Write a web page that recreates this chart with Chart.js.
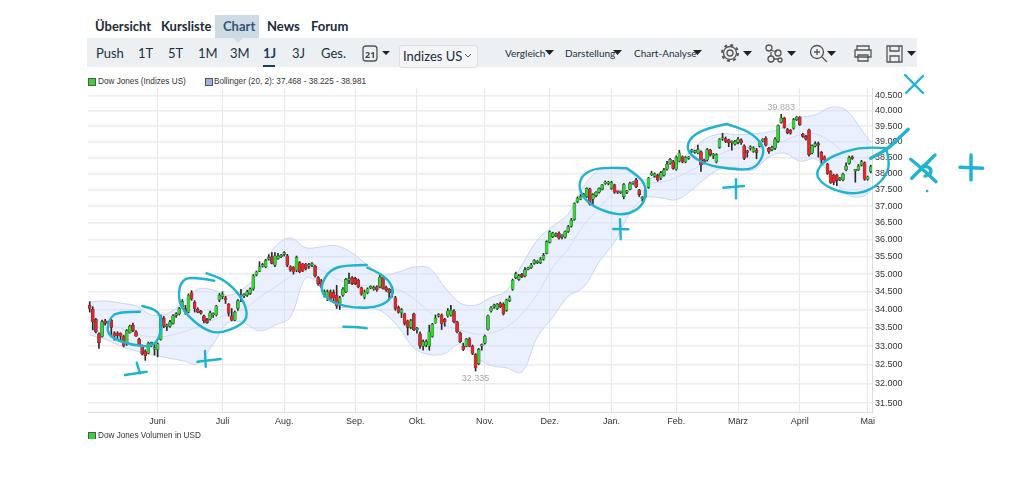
<!DOCTYPE html>
<html lang="de">
<head>
<meta charset="UTF-8">
<title>Dow Jones Chart</title>
<script src="https://cdn.jsdelivr.net/npm/chart.js"></script>
<style>
  html, body { margin: 0; padding: 0; background: #fff; width: 1020px; height: 477px; overflow: hidden; }
  body { position: relative; font-family: Lato, "Noto Sans", sans-serif; color: #1c2b39; }
  canvas { position: absolute; left: 0; top: 0; }
  .txt { position: absolute; white-space: nowrap; }
  .tab { top: 18px; font-size: 13px; font-weight: 700; line-height: 17px; }
  .per { top: 45px; font-size: 13px; line-height: 17px; color: #22313f; }
  .act { font-size: 10px; top: 46px; line-height: 14px; color: #22313f; }
  .lg { font: 8.2px "Liberation Sans", sans-serif; line-height: 11px; color: #333; }
  .sw { position: absolute; width: 6px; height: 6px; border: 1px solid #555; }
  #bar { position: absolute; left: 87px; top: 38px; width: 830px; height: 29px; background: #ecf0f3; }
  #active { position: absolute; left: 215px; top: 15px; width: 44px; height: 23px; background: #cddbe4; }
  #select { position: absolute; left: 399px; top: 45px; width: 77px; height: 21px; background: #f4f5f6; border: 1px solid #dcdfe2; border-radius: 3px; }
  #under { position: absolute; left: 263px; top: 65px; width: 12px; height: 2px; background: #1d3c5e; }
  svg { position: absolute; left: 0; top: 0; }
</style>
</head>
<body>
<div id="active"></div>
<div id="bar"></div>
<div id="under"></div>
<div id="select"></div>

<span class="txt tab" style="left:95px">Übersicht</span>
<span class="txt tab" style="left:161px">Kursliste</span>
<span class="txt tab" style="left:223px;color:#34566f">Chart</span>
<span class="txt tab" style="left:267px">News</span>
<span class="txt tab" style="left:311px">Forum</span>

<span class="txt per" style="left:96px">Push</span>
<span class="txt per" style="left:138px">1T</span>
<span class="txt per" style="left:168px">5T</span>
<span class="txt per" style="left:198px">1M</span>
<span class="txt per" style="left:230px">3M</span>
<span class="txt per" style="left:263px;font-weight:700;color:#1d3c5e">1J</span>
<span class="txt per" style="left:292px">3J</span>
<span class="txt per" style="left:321px">Ges.</span>
<span class="txt" style="left:403px;top:47px;font-size:13px;line-height:18px">Indizes US</span>
<span class="txt act" style="left:505px">Vergleich</span>
<span class="txt act" style="left:565px">Darstellung</span>
<span class="txt act" style="left:634px">Chart-Analyse</span>

<span class="sw" style="left:88px;top:78px;background:#33d433"></span>
<span class="txt lg" style="left:98px;top:76px">Dow Jones (Indizes US)</span>
<span class="sw" style="left:205px;top:78px;background:#9fb2dc"></span>
<span class="txt lg" style="left:214px;top:76px">Bollinger (20, 2): 37.468 - 38.225 - 38.981</span>

<canvas id="chart" width="1020" height="477"></canvas>

<div style="position:absolute;left:86px;top:431px;width:300px;height:8px;overflow:hidden">
  <span class="sw" style="left:2px;top:1px;background:#33d433"></span>
  <span class="txt lg" style="left:12px;top:-1px">Dow Jones Volumen in USD</span>
</div>

<svg id="icons" width="1020" height="477" fill="none" stroke="#555" stroke-width="1.3">
  <rect x="363" y="46" width="14" height="15" rx="3"/>
  <text x="365" y="58" font-size="9" font-weight="700" fill="#444" stroke="none" font-family="Noto Sans">21</text>
  <circle cx="730" cy="53" r="3"/>
  <circle cx="730" cy="53" r="6.5"/>
  <circle cx="730" cy="53" r="8" stroke-dasharray="3 3.3" stroke-width="2"/>
  <circle cx="769" cy="48" r="3"/><circle cx="778" cy="53" r="3"/><circle cx="771" cy="59" r="3"/><circle cx="780" cy="60" r="2"/>
  <path d="M770 50l7 2M771 56v-4M773 59h5"/>
  <circle cx="817" cy="52" r="6.5"/><path d="M822 57l5 5M814 52h6M817 49v6"/>
  <path d="M857 50v-4h12v4M855 50h16v7h-16zM858 55h10v6h-10z"/>
  <path d="M887 46h15v16h-15zM890 46v5h9v-5M890 62v-6h9v6"/>
  <g fill="#222" stroke="none">
    <path d="M382 51h8l-4 4z"/><path d="M545 50h9l-4.5 5z"/><path d="M613 50h9l-4.5 5z"/><path d="M693 50h9l-4.5 5z"/>
    <path d="M743 51h9l-4.5 5z"/><path d="M787 51h9l-4.5 5z"/><path d="M827 51h9l-4.5 5z"/><path d="M907 51h9l-4.5 5z"/>
    <path d="M233 38h10l-5 5z" fill="#cddbe4"/>
  </g>
  <path d="M465 54l3 3 3-3" stroke="#555" stroke-width="1"/>
</svg>

<svg id="notes" width="1020" height="477" fill="none" stroke="#1fb3d1" stroke-width="2.4" stroke-linecap="round" stroke-linejoin="round"></svg>

<script>
// Handelstage, Index 0 = erste Kerze
const monthDays = [22, 43, 63, 86, 106, 128, 149, 169, 190, 210, 230, 252];
const monthLabels = ['Juni', 'Juli', 'Aug.', 'Sep.', 'Okt.', 'Nov.', 'Dez.', 'Jan.', 'Feb.', 'März', 'April', 'Mai'];
const yTicks = [31500, 32000, 32500, 33000, 33500, 34000, 34500, 35000, 35500, 36000, 36500, 37000, 37500, 38000, 38500, 39000, 39500, 40000, 40500];
const yLabels = ['31.500', '32.000', '32.500', '33.000', '33.500', '34.000', '34.500', '35.000', '35.500', '36.000', '36.500', '37.000', '37.500', '38.000', '38.500', '39.000', '39.500', '40.000', '40.500'];

const opens = [
34120,34010,33730,33330,33260,33690,33630,33710,33360,33350,33350,33260,33060,33360,33570,33390,33180,33000,32850,32810,
33060,32920,32910,33180,33760,33530,33540,33620,33840,33880,34080,34030,33930,34470,34200,34010,33950,33830,33730,33740,
33850,33850,34270,34360,34330,34150,33830,33710,34030,34370,34380,34400,34450,34580,34980,35080,35230,35210,35430,35500,
35260,35450,35500,35570,35530,35210,35190,35110,35330,35290,35290,35230,35260,35230,34900,34810,34400,34350,34500,34480,
34400,34190,34400,34500,34830,34900,34880,34830,34610,34350,34470,34610,34580,34640,34640,34910,34620,34570,34450,34330,
34060,33910,33880,33690,33510,33880,33440,33330,33000,33030,33000,33260,33630,33820,33850,33730,33830,33850,33960,33660,
33360,33000,33000,33200,33000,32770,32530,33000,33080,33450,33960,34080,34030,34170,34150,33980,34250,34570,34900,34850,
34990,34950,35140,35190,35310,35330,35330,35430,35600,35920,36090,36120,36190,36090,36070,36240,36400,36600,37130,37210,
37310,37290,37520,37210,37320,37420,37510,37690,37690,37540,37650,37440,37410,37290,37420,37510,37690,37800,37490,37220,
37290,37570,37960,37910,37950,37860,37950,38130,38310,38360,38130,38390,38520,38360,38470,38690,38660,38640,38680,38410,
38420,38730,38550,38360,38820,39080,39100,39060,38970,38920,38980,39060,38870,38700,38790,38690,38730,38860,39030,39110,
38790,38750,38790,39010,39620,39760,39390,39360,39430,39710,39790,39240,39170,39380,38640,38860,38940,38660,38520,38290,
38060,37950,37950,37810,37800,38110,38310,38520,38080,38110,38270,38330,37820,38060];
const closes = [
34030,33660,33390,33090,33660,33620,33650,33510,33270,33290,33270,33020,33420,33540,33420,33270,33030,32790,32740,33080,
33080,32960,33060,33790,33540,33560,33660,33830,33880,34030,34220,33930,34400,34290,34030,33930,33900,33690,33640,33910,
33870,34100,34400,34430,34270,33900,33710,33930,34250,34400,34400,34500,34580,34950,35060,35210,35260,35390,35460,35310,
35530,35520,35540,35620,35260,35110,35060,35480,35070,35090,35160,35260,35290,34950,34730,34640,34500,34500,34290,34330,
34100,34330,34570,34850,34870,34730,34730,34640,34430,34500,34580,34640,34610,34550,34910,34590,34550,34470,34550,34030,
33930,34000,33620,33510,33690,33440,33470,33000,33120,33120,33390,33600,33760,33860,33620,33660,33960,33980,33660,33390,
33120,32910,33190,33000,32800,32420,32910,33030,33270,33830,34050,34120,34150,34080,33880,34270,34330,34830,35010,34950,
34930,35130,35170,35260,35390,35360,35430,35540,35940,36230,36190,36150,36040,36120,36240,36380,36580,37080,37240,37290,
37340,37540,37060,37350,37420,37540,37650,37730,37720,37720,37420,37420,37430,37660,37450,37690,37720,37590,37350,37250,
37480,37860,37990,37980,37800,38020,38110,38290,38440,38160,38500,38640,38360,38500,38500,38720,38700,38750,38270,38360,
38750,38590,38600,38590,39080,39110,39010,38960,38990,39010,39080,38960,38470,38660,38820,38790,38660,38990,39060,38890,
38690,38820,39080,39520,39760,39460,39290,39270,39710,39790,39550,39170,39080,38590,38870,38940,38890,38420,38420,38000,
37720,37720,37780,37850,37980,38230,38500,38470,38110,38230,38360,37820,37890,38210];
const highs = [
34220,34080,33760,33360,33710,33730,33680,33730,33390,33390,33360,33300,33450,33570,33630,33420,33220,33030,32900,33110,
33110,33070,33090,33850,33810,33600,33700,33860,33920,34060,34280,34120,34440,34530,34250,34050,33980,33850,33760,33960,
33910,34120,34450,34500,34370,34170,34030,33960,34280,34570,34450,34540,34610,34990,35090,35360,35310,35430,35560,35620,
35620,35600,35570,35650,35570,35240,35220,35520,35360,35310,35310,35310,35330,35260,34930,34850,34550,34550,34550,34550,
34680,34370,34620,34880,35030,34930,34910,34860,34630,34550,34610,34670,34660,34670,34980,34950,34660,34590,34640,34370,
34100,34030,33900,33710,33730,33900,33510,33390,33170,33170,33570,33620,33850,33890,33880,33760,34030,34120,34000,33680,
33390,33080,33210,33230,33030,32800,32940,33060,33300,33850,34080,34150,34170,34210,34190,34290,34380,34860,35060,34990,
35020,35190,35200,35310,35420,35390,35480,35600,35970,36260,36220,36200,36230,36150,36260,36420,36630,37100,37280,37350,
37390,37560,37550,37380,37440,37560,37660,37770,37760,37760,37670,37460,37460,37690,37480,37730,37750,37850,37510,37290,
37500,37880,38070,38020,37980,38070,38160,38380,38470,38410,38550,38730,38550,38530,38530,38760,38730,38890,38710,38450,
38790,38760,38630,38620,39100,39270,39150,39080,39030,39040,39140,39090,38900,38730,38870,38840,38790,39020,39100,39160,
38820,38860,39130,39540,39883,39790,39430,39390,39750,39810,39810,39270,39200,39400,38900,39000,38990,38690,38550,38320,
38090,37980,37980,37880,38010,38330,38540,38550,38130,38280,38410,38360,37920,38260];
const lows = [
33930,33440,33360,32940,33240,33570,33590,33260,33160,33160,33120,32980,33020,33350,33390,33260,33010,32760,32620,32790,
32980,32760,32710,33160,33500,33420,33510,33600,33780,33850,34030,33870,33910,34260,33930,33910,33870,33630,33620,33710,
33780,33820,34220,34300,34170,33820,33690,33690,33980,34220,34330,34370,34420,34540,34950,35070,35200,35180,35400,35290,
35210,35420,35470,35520,35210,35080,35000,35070,35040,35070,35120,35160,35210,34910,34680,34610,34350,34250,34250,34190,
34030,34000,34370,34470,34730,34700,34700,34610,34400,34300,34440,34580,34540,34510,34610,34570,34510,34290,34350,33980,
33900,33780,33570,33300,33470,33420,33350,32940,32890,32980,32890,33240,33620,33790,33450,33540,33790,33820,33630,33360,
33090,32880,32980,32980,32770,32335,32500,32890,33050,33430,33930,34030,34000,34050,33850,33950,34220,34540,34870,34820,
34900,34920,35120,35160,35280,35300,35300,35400,35580,35900,36060,36090,36010,36020,36040,36210,36370,36570,37100,37190,
37270,37260,37030,37010,37280,37390,37490,37660,37650,37510,37390,37380,37380,37220,37380,37490,37660,37560,37290,37150,
37260,37540,37930,37880,37760,37810,37920,38100,38280,38130,38100,38360,38330,38330,38440,38660,38630,38610,38060,38300,
38380,38540,38460,38330,38790,39040,38970,38840,38730,38890,38930,38910,38430,38510,38730,38660,38460,38830,38990,38860,
38630,38710,38750,38980,39590,39430,39250,39240,39400,39680,39520,39140,39050,38540,38610,38830,38510,38320,38380,37970,
37690,37650,37620,37780,37770,38080,38280,38440,37730,38090,38230,37790,37790,38020];

const bandDays = [0, 5, 10, 15, 20, 25, 30, 35, 40, 45, 50, 55, 60, 65, 70, 75, 80, 85, 90, 95, 100, 105, 110, 115, 120, 125, 130, 135, 140, 145, 150, 155, 160, 165, 170, 175, 180, 185, 190, 195, 200, 205, 210, 215, 220, 225, 230, 235, 240, 245, 250, 253];
const bandUpper = [34210, 34240, 34180, 34100, 33850, 33880, 34180, 34570, 34550, 34400, 34600, 35080, 35790, 36050, 35760, 35790, 35820, 35610, 35260, 34980, 35060, 35200, 35170, 34630, 34180, 34120, 34340, 34520, 35260, 35990, 36400, 36760, 37610, 38110, 38200, 38140, 37800, 38050, 38320, 38730, 39130, 39250, 39220, 39250, 39310, 39470, 39770, 39860, 40110, 40020, 39380, 38981];
const bandMiddle = [33770, 33630, 33490, 33330, 33250, 33270, 33380, 33520, 33710, 33880, 34010, 34340, 34630, 34920, 35170, 35110, 34860, 34710, 34660, 34600, 34550, 34310, 33930, 33570, 33440, 33330, 33360, 33520, 33880, 34430, 35200, 35730, 36430, 36940, 37410, 37610, 37700, 37730, 37870, 38110, 38350, 38640, 38800, 38830, 38890, 39030, 39220, 39250, 39000, 38590, 38230, 38225];
const bandLower = [33300, 33190, 33000, 32870, 32770, 32690, 32610, 32530, 33060, 33650, 33630, 33410, 33570, 33790, 34890, 34680, 34100, 34070, 34070, 33930, 33520, 32950, 32770, 32800, 33060, 32710, 32480, 32420, 32310, 33250, 33790, 34370, 34630, 35350, 35930, 36790, 37250, 37250, 37190, 37490, 37890, 38170, 38170, 38110, 38510, 38640, 38380, 38450, 37950, 37370, 37280, 37468];

const peakLabels = [{ day: 224, value: 39883, text: '39.883', above: true }, { day: 125, value: 32335, text: '32.335', above: false }];

const GREEN = '#33d433', RED = '#e3272b';
const days = opens.map((_, i) => i);

const extremes = {
  id: 'extremes',
  afterDatasetsDraw(chart) {
    const c = chart.ctx;
    c.save();
    c.font = '9px "Liberation Sans", sans-serif';
    c.fillStyle = '#a9a9a9';
    c.textAlign = 'center';
    peakLabels.forEach(p => {
      const x = chart.scales.x.getPixelForValue(p.day);
      const y = chart.scales.y.getPixelForValue(p.value);
      c.textBaseline = p.above ? 'bottom' : 'top';
      c.fillText(p.text, x, p.above ? y - 2 : y + 3);
    });
    c.restore();
  }
};

new Chart(document.getElementById('chart'), {
  data: {
    datasets: [
      { type: 'line', data: bandDays.map((d, i) => ({ x: d, y: bandUpper[i] })), borderColor: '#c6d5f0', borderWidth: 1, pointRadius: 0, tension: 0.35, fill: 2, backgroundColor: 'rgba(205,220,250,0.42)', order: 3 },
      { type: 'line', data: bandDays.map((d, i) => ({ x: d, y: bandMiddle[i] })), borderColor: '#d2def4', borderWidth: 1, pointRadius: 0, tension: 0.35, fill: false, order: 3 },
      { type: 'line', data: bandDays.map((d, i) => ({ x: d, y: bandLower[i] })), borderColor: '#c6d5f0', borderWidth: 1, pointRadius: 0, tension: 0.35, fill: false, order: 3 },
      { type: 'bar', data: days.map(i => ({ x: i, y: [lows[i], highs[i]] })), backgroundColor: '#2a2a2a', barThickness: 1, grouped: false, order: 2 },
      { type: 'bar', data: days.map(i => ({ x: i, y: [opens[i], closes[i]] })), backgroundColor: days.map(i => closes[i] >= opens[i] ? GREEN : RED), borderColor: '#333', borderWidth: 0.4, borderSkipped: false, barThickness: 3, minBarLength: 1.5, grouped: false, order: 1 }
    ]
  },
  options: {
    responsive: false,
    animation: false,
    layout: { padding: { left: 88, top: 88, right: 0, bottom: 0 } },
    plugins: { legend: { display: false }, tooltip: { enabled: false } },
    scales: {
      x: {
        type: 'linear',
        min: -0.55,
        max: 253.4,
        offset: false,
        afterBuildTicks: s => { s.ticks = monthDays.map(v => ({ value: v })); },
        afterFit: s => { s.height = 65; },
        grid: { color: '#e8e8e8', offset: false, drawTicks: false },
        border: { color: '#dcdcdc' },
        ticks: {
          autoSkip: false, maxRotation: 0, padding: 4, color: '#333',
          font: { family: '"Liberation Sans", sans-serif', size: 9 },
          callback: (v, i) => monthLabels[i]
        }
      },
      y: {
        type: 'logarithmic',
        position: 'right',
        min: 31270,
        max: 40749,
        afterBuildTicks: s => { s.ticks = yTicks.map(v => ({ value: v })); },
        afterFit: s => { s.width = 148; },
        grid: { color: '#ececec', drawTicks: false, lineWidth: 1.4 },
        border: { color: '#dcdcdc' },
        ticks: {
          padding: 3, color: '#333',
          font: { family: '"Liberation Sans", sans-serif', size: 9 },
          callback: (v, i) => yLabels[i]
        }
      }
    }
  },
  plugins: [extremes]
});

// Handschriftliche Markierungen
const notes = [
  [[140,311.7],[118,311.7],[110,318],[106.7,330],[111.7,338],[131.7,345],[151.7,347],[160,337],[162,320],[156.7,310],[142.3,306]],
  [[136.7,362.7],[140,373.3]], [[125,375],[146.7,371.7]],
  [[214.3,280.7],[190,276],[180,283],[178.3,300],[185,313],[201.7,328],[218.3,334.3],[241.7,325],[248.3,315],[241.7,296.7],[225,280],[206.7,273.3]],
  [[205,351],[205.7,366.7]], [[197.3,361.7],[220.7,359]],
  [[366.7,265],[345,265],[330,270],[321.7,283.3],[321.7,293.3],[333.3,303.3],[356.7,308.3],[380,306.7],[393.3,296.7],[391.7,283.3],[380,273.3],[367.3,267.7]],
  [[343.3,326.7],[355,326.7],[366.7,328.3]],
  [[626.7,168.3],[606.7,167.3],[590,170],[580,178.3],[579.3,191.7],[590,205],[610,213.3],[626.7,215],[641.7,206.7],[646.7,193.3],[643.3,180],[626.7,168.3]],
  [[620,219.3],[620.7,239.3]], [[613.3,229],[628.3,229.3]],
  [[726.7,124],[710,127.3],[693.3,135],[686.7,145],[690,155],[706.7,165],[730,169],[753.3,170],[763.3,156.7],[763.3,145],[750,131.7],[726.7,124]],
  [[736,179.3],[736,198.3]], [[723.3,187.7],[744,186]],
  [[886.7,148.3],[866.7,146.7],[843.3,151.7],[825,160],[815,173.3],[823.3,185],[843.3,193.3],[863.3,193.3],[880,183.3],[890,168.3],[886.7,150]],
  [[905,75],[923,93]], [[923,76],[906,93]],
  [[927,191],[927.3,191]]
];
// die dickeren Striche rechts
const heavyNotes = [
  [[870.7,158.3],[886.7,150],[896.7,140],[908.3,129.3]],
  [[910.7,159.3],[921.7,168.3],[936,181.7]], [[935,155],[921.7,168.3],[911.7,178.3]],
  [[923,166],[931,167],[931,174],[925,176]],
  [[960,167.3],[982.7,168.3]], [[971,155],[971,180]]
];
const svg = document.getElementById('notes');
function addNote(p, width) {
  let d = 'M' + p[0];
  for (let i = 1; i < p.length - 1; i++) {
    const mx = (p[i][0] + p[i + 1][0]) / 2, my = (p[i][1] + p[i + 1][1]) / 2;
    d += ' Q' + p[i] + ' ' + mx + ',' + my;
  }
  d += ' L' + p[p.length - 1];
  const el = document.createElementNS('http://www.w3.org/2000/svg', 'path');
  el.setAttribute('d', d);
  el.setAttribute('stroke-width', width);
  svg.appendChild(el);
}
notes.forEach(p => addNote(p, 2.4));
heavyNotes.forEach(p => addNote(p, 3.4));
</script>
</body>
</html>
